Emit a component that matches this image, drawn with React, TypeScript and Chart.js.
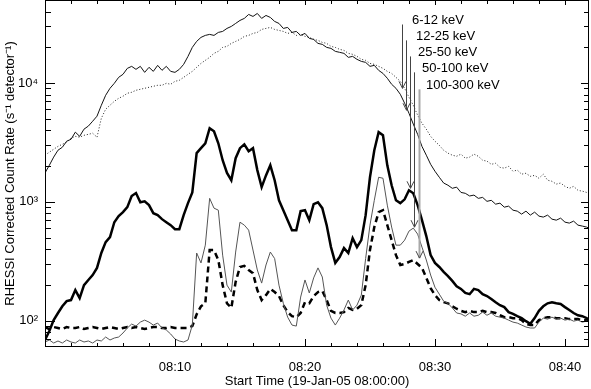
import React, { useEffect, useRef } from "react";
import { Chart, registerables } from "chart.js";

Chart.register(...registerables);

const FONT = "'Liberation Sans', Arial, Helvetica, sans-serif";

// minutes after 08:00:00, one sample every 20 s
const SAMPLE_MINUTES = 20 / 60;
const X_MIN = 0;
const X_MAX = 41.85;
const Y_MIN = 60;
const Y_MAX = 50000;

const rate6to12 = [
  1750, 2030, 2380, 2720, 2880, 3240, 3360, 3860, 3560, 4090,
  4340, 4770, 5260, 6500, 7890, 9030, 9950, 11170, 11840, 13290,
  13820, 13040, 13820, 12300, 13560, 12540, 14090, 12790, 13820, 12540,
  12300, 13040, 14360, 16770, 19960, 22420, 24230, 25180, 25670, 25180,
  26680, 27200, 28830, 29970, 31750, 33650, 35000, 37790, 36360, 38530,
  35000, 37070, 35670, 33010, 31750, 28830, 29390, 26680, 27200, 25180,
  26170, 23770, 23300, 21570, 21160, 19960, 19580, 18480, 18130, 17780,
  16450, 16770, 15830, 15220, 14930, 13820, 14090, 12790, 12050, 10970,
  9760, 9030, 8040, 6760, 5570, 4510, 3700, 2930, 2470, 2070,
  1810, 1610, 1440, 1380, 1300, 1330, 1200, 1180, 1120, 1140,
  1070, 1090, 1010, 1030, 956, 975, 902, 920, 851, 835,
  788, 835, 773, 819, 758, 744, 773, 715, 701, 729,
  675, 662, 688, 637, 625, 613, 590,
];

const rate12to25 = [
  2470, 2620, 2770, 2930, 3050, 3170, 3430, 3560, 3500, 3630,
  3700, 3780, 3500, 5050, 6020, 6500, 7020, 7440, 7740, 8200,
  8360, 8690, 8860, 9030, 9210, 9390, 9570, 9570, 9950, 9760,
  10340, 10540, 11170, 11840, 12540, 13560, 14640, 15520, 16450, 17780,
  18480, 19960, 20350, 21570, 22420, 23300, 24700, 25180, 26170, 26680,
  28270, 28830, 29390, 28270, 27730, 27200, 26170, 26680, 25180, 25670,
  24700, 24230, 23300, 22860, 21990, 21570, 20350, 19960, 19210, 18840,
  17780, 17440, 16770, 15830, 15520, 14640, 14360, 13820, 13290, 12540,
  12050, 11170, 10340, 9030, 7590, 6500, 5360, 4590, 4090, 3560,
  3240, 2990, 2720, 2570, 2470, 2420, 2520, 2330, 2380, 2520,
  2420, 2240, 2200, 2070, 2110, 1950, 1920, 1990, 1810, 1850,
  1710, 1740, 1640, 1670, 1580, 1710, 1520, 1490, 1410, 1440,
  1350, 1300, 1350, 1250, 1230, 1200, 1180,
];

const rate25to50 = [
  68.7, 81.8, 101, 116, 132, 146, 149, 181, 155, 199,
  220, 242, 278, 371, 458, 505, 674, 758, 819, 902,
  1118, 1185, 991, 1010, 938, 803, 773, 715, 674, 637,
  589, 589, 773, 975, 1200, 2570, 2830, 3110, 4170, 3930,
  3110, 2240, 1750, 1520, 2330, 2830, 3050, 2670, 2830, 1850,
  1330, 1670, 2030, 1520, 1030, 851, 701, 578, 578, 835,
  851, 701, 956, 991, 885, 637, 416, 306, 343, 408,
  371, 495, 416, 476, 773, 1610, 2720, 3860, 3630, 2030,
  1380, 1030, 975, 1050, 1250, 1180, 938, 701, 515, 356,
  306, 283, 257, 237, 216, 195, 185, 171, 167, 185,
  181, 167, 161, 152, 143, 135, 130, 118, 114, 109,
  105, 99, 94, 105, 121, 132, 140, 143, 140, 138,
  130, 123, 116, 111, 109, 105, 103,
];

const rate50to100 = [
  66.1, 68.7, 64.8, 67.4, 64.8, 68.7, 66.1, 64.8, 68.7, 66.1,
  67.4, 64.8, 68.7, 67.4, 72.8, 68.7, 71.4, 72.8, 78.7, 86.7,
  93.6, 90.0, 97.2, 101, 97.2, 91.8, 95.4, 86.7, 83.4, 77.2,
  70.0, 67.4, 66.1, 68.7, 91.8, 371, 306, 432, 1070, 885,
  851, 356, 199, 174, 378, 674, 637, 578, 393, 267,
  207, 294, 378, 333, 199, 140, 107, 91.8, 90.0, 158,
  220, 171, 229, 278, 233, 135, 105, 91.8, 105, 123,
  149, 123, 135, 164, 333, 637, 1030, 1610, 1580, 938,
  613, 432, 432, 476, 567, 601, 535, 416, 324, 242,
  191, 167, 146, 140, 128, 116, 114, 109, 116, 109,
  111, 118, 111, 116, 109, 107, 105, 101, 97.2, 95.4,
  91.8, 88.4, 86.7, 86.7, 97.2, 105, 103, 107, 103, 105,
  101, 103, 99, 101, 97.2, 99, 97.2,
];

const rate100to300 = [
  88.4, 85.0, 88.4, 86.7, 85.0, 88.4, 86.7, 86.7, 88.4, 85.0,
  86.7, 88.4, 86.7, 85.0, 86.7, 88.4, 86.7, 85.0, 86.7, 88.4,
  86.7, 88.4, 86.7, 85.0, 86.7, 88.4, 88.4, 86.7, 86.7, 88.4,
  86.7, 86.7, 86.7, 86.7, 90.0, 113, 132, 140, 393, 393,
  324, 199, 140, 128, 212, 283, 289, 267, 251, 181,
  149, 164, 185, 174, 161, 135, 118, 109, 107, 116,
  143, 140, 161, 174, 178, 149, 121, 116, 116, 118,
  128, 123, 126, 135, 199, 393, 613, 819, 851, 637,
  476, 356, 294, 300, 312, 324, 300, 278, 229, 188,
  164, 149, 143, 140, 132, 126, 121, 118, 121, 118,
  118, 121, 118, 118, 116, 111, 107, 107, 105, 105,
  101, 93.6, 91.8, 91.8, 101, 105, 107, 107, 105, 105,
  105, 103, 103, 103, 101, 101, 101,
];

const xTickValues = [10, 20, 30, 40];
const xTickLabels = ["08:10", "08:20", "08:30", "08:40"];
const xMinorStep = 2;
const yTickValues = [100, 1000, 10000];
const yTickLabels = ["10\u00B2", "10\u00B3", "10\u2074"];

const xTitle = "Start Time (19-Jan-05 08:00:00)";
const yTitle = "RHESSI Corrected Count Rate (s\u207B\u00B9 detector\u207B\u00B9)";

// band annotations (data coordinates: minutes, counts)
const bandLabels = ["6-12 keV", "12-25 keV", "25-50 keV", "50-100 keV", "100-300 keV"];
const labelTimes = [28.23, 28.54, 28.69, 29.0, 29.31];
const labelRates = [33650, 24660, 18110, 13310, 9570];
const arrowTimes = [27.46, 27.77, 28.08, 28.38, 28.77];
const arrowTopRates = [31100, 22860, 16750, 12300, 8850];
const arrowTipRates = [9020, 5900, 1300, 612, 336];

const framePlugin = {
  id: "idlFrame",
  afterDatasetsDraw(chart: any) {
    const { ctx, chartArea, scales } = chart;
    const { left, right, top, bottom } = chartArea;
    const xs = scales.x;
    const ys = scales.y;
    ctx.save();
    ctx.strokeStyle = "#000";
    ctx.lineWidth = 1;
    const seg = (x1: number, y1: number, x2: number, y2: number) => {
      ctx.beginPath();
      ctx.moveTo(x1, y1);
      ctx.lineTo(x2, y2);
      ctx.stroke();
    };
    // frame
    ctx.strokeRect(left + 0.5, top + 0.5, right - left - 1, bottom - top - 1);
    // x ticks
    for (let m = X_MIN; m <= X_MAX; m += xMinorStep) {
      const px = Math.round(xs.getPixelForValue(m)) + 0.5;
      if (px <= left + 1 || px >= right - 1) continue;
      const major = xTickValues.indexOf(m) >= 0;
      seg(px, bottom, px, bottom - (major ? 8 : 4));
      seg(px, top, px, top + (major ? 5 : 4));
    }
    // y ticks
    for (let e = 1; e <= 4; e++) {
      for (let d = 1; d <= 9; d++) {
        const v = d * Math.pow(10, e);
        if (v < Y_MIN || v > Y_MAX) continue;
        const py = Math.round(ys.getPixelForValue(v)) + 0.5;
        if (py <= top + 1 || py >= bottom - 1) continue;
        const major = d === 1;
        seg(left, py, left + (major ? 10 : 6), py);
        seg(right, py, right - (major ? 8 : 5), py);
      }
    }
    // band arrows
    for (let i = 0; i < bandLabels.length; i++) {
      const ax = Math.round(xs.getPixelForValue(arrowTimes[i])) + 0.5;
      const y1 = ys.getPixelForValue(arrowTopRates[i]);
      const y2 = ys.getPixelForValue(arrowTipRates[i]);
      const last = i === bandLabels.length - 1;
      ctx.strokeStyle = last ? "#a8a8a8" : "#444";
      ctx.lineWidth = last ? 2 : 1;
      seg(ax, y1, ax, y2);
      ctx.strokeStyle = "#444";
      ctx.lineWidth = 1;
      seg(ax - 3.5, y2 - 7, ax, y2);
      seg(ax + 3.5, y2 - 7, ax, y2);
    }
    ctx.fillStyle = "#000";
    ctx.font = `13px ${FONT}`;
    ctx.textAlign = "left";
    ctx.textBaseline = "middle";
    for (let i = 0; i < bandLabels.length; i++) {
      ctx.fillText(bandLabels[i], xs.getPixelForValue(labelTimes[i]), ys.getPixelForValue(labelRates[i]));
    }
    ctx.restore();
  },
};

export default function App() {
  const ref = useRef<HTMLCanvasElement>(null);
  useEffect(() => {
    const canvas = ref.current;
    if (!canvas) return;
    const toPts = (arr: number[]) => arr.map((v, i) => ({ x: i * SAMPLE_MINUTES, y: v }));
    const chart = new Chart(canvas, {
      type: "line",
      data: {
        datasets: [
          { label: "6-12 keV", data: toPts(rate6to12), borderColor: "#111", borderWidth: 1, pointRadius: 0, fill: false },
          { label: "12-25 keV", data: toPts(rate12to25), borderColor: "#222", borderWidth: 1, borderDash: [1, 2], pointRadius: 0, fill: false },
          { label: "25-50 keV", data: toPts(rate25to50), borderColor: "#000", borderWidth: 2.5, pointRadius: 0, fill: false },
          { label: "50-100 keV", data: toPts(rate50to100), borderColor: "#555", borderWidth: 1, pointRadius: 0, fill: false },
          { label: "100-300 keV", data: toPts(rate100to300), borderColor: "#000", borderWidth: 2.5, borderDash: [6, 4], pointRadius: 0, fill: false },
        ],
      } as any,
      options: {
        animation: false,
        responsive: false,
        devicePixelRatio: 1,
        layout: { padding: { top: 0, right: 2, left: 0, bottom: 0 } },
        plugins: { legend: { display: false }, tooltip: { enabled: false } },
        elements: { line: { tension: 0 } },
        scales: {
          x: {
            type: "linear",
            min: X_MIN,
            max: X_MAX,
            grid: { display: false, drawTicks: false },
            border: { display: false },
            afterBuildTicks: (s: any) => {
              s.ticks = xTickValues.map((v) => ({ value: v }));
            },
            afterFit: (s: any) => {
              s.height = 42;
              s.paddingLeft = 0;
              s.paddingRight = 0;
            },
            ticks: {
              autoSkip: false,
              maxRotation: 0,
              padding: 13,
              color: "#000",
              font: { family: FONT, size: 13 },
              callback: (_v: any, i: number) => xTickLabels[i] ?? "",
            },
            title: {
              display: true,
              text: xTitle,
              color: "#000",
              font: { family: FONT, size: 13 },
              padding: { top: 0, bottom: 0 },
            },
          },
          y: {
            type: "logarithmic",
            min: Y_MIN,
            max: Y_MAX,
            grid: { display: false, drawTicks: false },
            border: { display: false },
            afterBuildTicks: (s: any) => {
              s.ticks = yTickValues.map((v) => ({ value: v }));
            },
            afterFit: (s: any) => {
              s.width = 45;
              s.paddingTop = 0;
              s.paddingBottom = 0;
            },
            ticks: {
              autoSkip: false,
              padding: 7,
              color: "#000",
              font: { family: FONT, size: 13 },
              callback: (_v: any, i: number) => yTickLabels[i] ?? "",
            },
            title: {
              display: true,
              text: yTitle,
              color: "#000",
              font: { family: FONT, size: 13 },
              padding: { top: 3, bottom: 0 },
            },
          },
        },
      } as any,
      plugins: [framePlugin],
    });
    return () => chart.destroy();
  }, []);
  return (
    <div style={{ position: "fixed", left: 0, top: 0, width: 591, height: 389, background: "#fff" }}>
      <canvas ref={ref} width={591} height={389} style={{ display: "block" }} />
    </div>
  );
}
